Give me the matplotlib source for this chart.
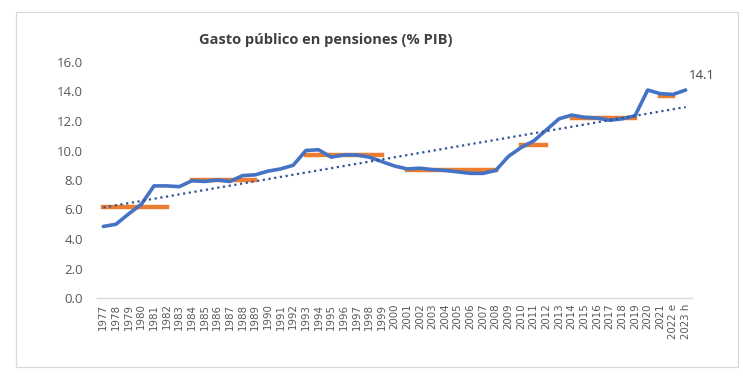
import matplotlib
matplotlib.use("Agg")
import matplotlib.pyplot as plt
import numpy as np
from matplotlib.patches import Rectangle

years = [str(y) for y in range(1977, 2022)] + ["2022 e", "2023 h"]
gasto = [4.85, 5.0, 5.7, 6.35, 7.6, 7.6, 7.55, 7.95, 7.9, 8.0, 7.9, 8.3, 8.35,
         8.6, 8.75, 9.0, 10.0, 10.05, 9.55, 9.7, 9.7, 9.55, 9.25, 8.95, 8.75,
         8.8, 8.7, 8.65, 8.55, 8.45, 8.45, 8.65, 9.6, 10.2, 10.65, 11.4, 12.15,
         12.4, 12.25, 12.2, 12.05, 12.15, 12.35, 14.1, 13.85, 13.8, 14.1]
# orange averages: (start year, end year, value)
avg_start = ["1977", "1984", "1993", "2001", "2010", "2014", "2021"]
avg_end = ["1982", "1989", "1999", "2008", "2012", "2019", "2022 e"]
avg_val = [6.2, 8.0, 9.7, 8.7, 10.4, 12.2, 13.7]
yticks = [0, 2, 4, 6, 8, 10, 12, 14, 16]

W, H = 743, 383
fig = plt.figure(figsize=(W / 100, H / 100), dpi=100)
fig.patch.set_facecolor("white")
fig.patches.append(Rectangle((16 / W, 1 - 367 / H), (738 - 16) / W, (367 - 12) / H,
                             transform=fig.transFigure, fill=False,
                             edgecolor="#D9D9D9", lw=0.9))

ax = fig.add_axes([97 / W, 1 - 298 / H, (692 - 97) / W, (298 - 62) / H])
x = np.arange(len(years))
ax.plot(x, gasto, color="#4472C4", lw=2.6, solid_capstyle="round", zorder=3)

for s, e, v in zip(avg_start, avg_end, avg_val):
    i0, i1 = years.index(s), years.index(e)
    ax.plot([i0, i1], [v, v], color="#ED7D31", lw=3.2, zorder=2)

coef = np.polyfit(x, gasto, 1)
ax.plot(x, np.polyval(coef, x), color="#2F5597", lw=1.6, ls=(0, (1, 1.6)), zorder=4)

ax.annotate(f"{gasto[-1]:.1f}", (x[-1], gasto[-1]), xytext=(2, 6),
            textcoords="offset points", fontsize=9.5, color="#404040",
            ha="left", va="bottom", family="Open Sans")

ax.set_xlim(-0.5, len(years) - 0.5)
ax.set_ylim(0, 16)
ax.set_yticks(yticks)
ax.set_yticklabels([f"{v:.1f}" for v in yticks], fontsize=9.5, color="#595959",
                   family="Open Sans")
ax.set_xticks(x)
ax.set_xticklabels(years, rotation=90, fontsize=7.4, color="#595959",
                   family="DejaVu Sans")
ax.tick_params(axis="both", length=0, pad=4)
ax.tick_params(axis="y", pad=10)
for sp in ["top", "right", "left"]:
    ax.spines[sp].set_visible(False)
ax.spines["bottom"].set_color("#D9D9D9")
ax.spines["bottom"].set_linewidth(1.0)

fig.text(326 / W, 1 - 40 / H, "Gasto público en pensiones (% PIB)", ha="center",
         va="center", fontsize=10.5, fontweight="bold", color="#404040",
         family="Open Sans")

fig.savefig("out.png", dpi=100, facecolor="white")
